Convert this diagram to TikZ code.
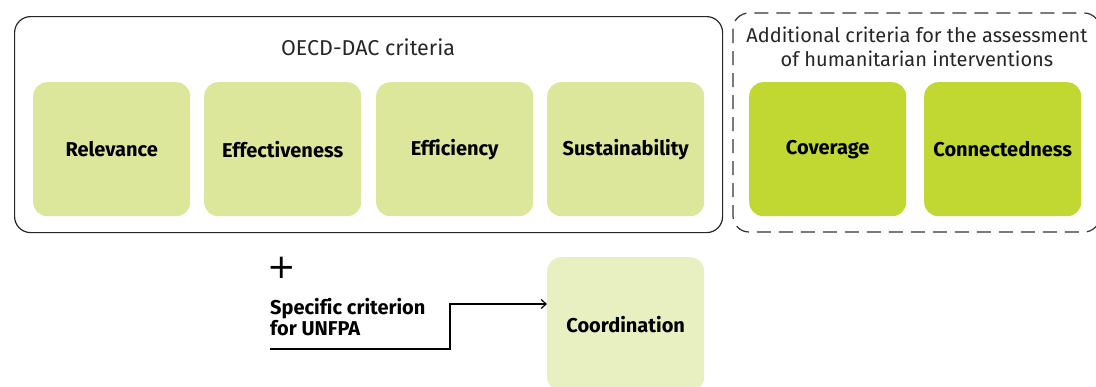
\documentclass[tikz,border=0pt]{standalone}
\usepackage{fontspec}
\setmainfont{Fira Sans}
\newfontfamily\plusfont{DejaVu Sans}
\usetikzlibrary{arrows.meta}
\definecolor{lgreen}{HTML}{DDE79B}
\definecolor{dgreen}{HTML}{C2D832}
\definecolor{pgreen}{HTML}{E8F0C2}
\tikzset{
  crit/.style={rounded corners=14pt, minimum width=157pt, minimum height=134pt, inner sep=0pt, font=\fontsize{20}{22}\selectfont\bfseries, text=black},
  group/.style={draw=black!85, line width=1.2pt, rounded corners=16pt},
  title/.style={font=\fontsize{20}{24}\selectfont, text=black!85, align=center},
}
\begin{document}
\begin{tikzpicture}[x=1pt,y=-1pt]
\useasboundingbox (0,0) rectangle (1096,386);
\node[group, minimum width=708pt, minimum height=216pt, anchor=north west] (oecd) at (14,16) {};
\draw[line width=1.2pt, black!80, dash pattern=on 14pt off 8pt, rounded corners=16pt] (733,13) rectangle (1100,232);
\node[title, font=\fontsize{21.5}{24}\selectfont] (t1) at (368,47) {OECD-DAC criteria};
\node[title] (t2) at (917,47) {Additional criteria for the assessment\\of humanitarian interventions};
\node[crit, fill=lgreen, anchor=north west] (rel) at (33,82) {Relevance};
\node[crit, fill=lgreen, anchor=north west] (eff) at (204,82) {Effectiveness};
\node[crit, fill=lgreen, anchor=north west] (effi) at (376,82) {\addfontfeatures{Ligatures=NoCommon}Efficiency};
\node[crit, fill=lgreen, anchor=north west] (sus) at (547,82) {Sustainability};
\node[crit, fill=dgreen, anchor=north west] (cov) at (749,82) {Coverage};
\node[crit, fill=dgreen, anchor=north west] (con) at (924,82) {Connectedness};
\node[crit, fill=pgreen, anchor=north west] (coo) at (547,257) {Coordination};
\node[font=\plusfont\fontsize{34}{34}\selectfont, inner sep=0pt] (plus) at (282,268) {+};
\node[anchor=west, align=left, inner sep=0pt, font=\fontsize{20}{21}\selectfont\bfseries] (spec) at (270,317) {\addfontfeatures{Ligatures=NoCommon}Specific criterion\\for UNFPA};
\coordinate (start) at (270,349);
\draw[line width=1.2pt, -{Straight Barb[length=5pt,width=9pt]}] (start) -- (450,349) -- (450,304) -- (coo.west |- 0,304);
\end{tikzpicture}
\end{document}
